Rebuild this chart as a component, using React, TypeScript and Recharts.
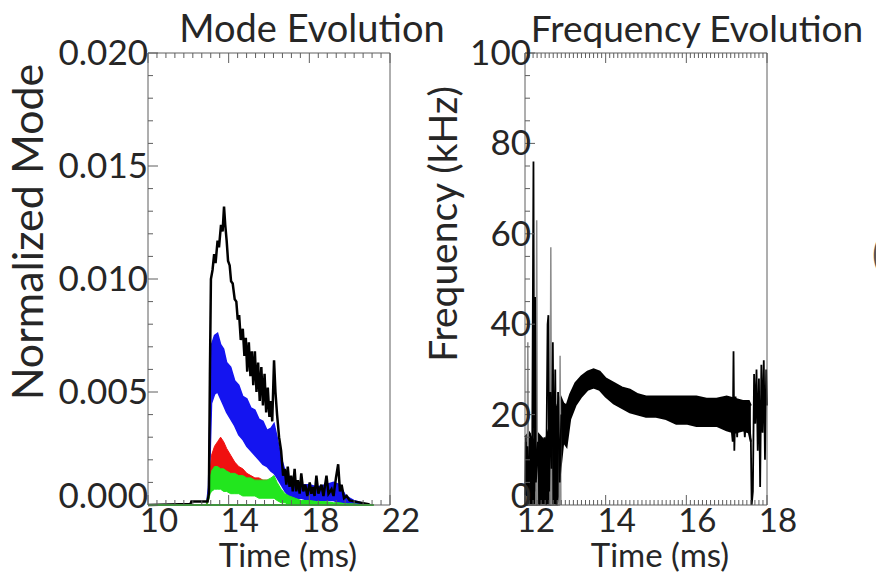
import React from "react";
import { ComposedChart, Area, Line, XAxis, YAxis } from "recharts";

const FONT = "Lato, 'Open Sans', sans-serif";
const FRAME = "#5e5e5e";
const INK = "#262626";

// ---------- Mode Evolution ----------
const modeXMajor = [10, 14, 18, 22];
const modeYMajor = [0, 0.005, 0.01, 0.015, 0.02];

const bandTime = [
  12.9, 13.0, 13.08, 13.15, 13.3, 13.45, 13.6, 13.75, 13.9, 14.1,
  14.3, 14.5, 14.7, 14.9, 15.1, 15.3, 15.5, 15.7, 15.9, 16.1,
  16.25, 16.4, 16.6, 16.8, 17.0, 17.3, 17.6, 18.0, 18.4, 18.8,
  19.2, 19.5, 19.8, 20.2, 20.8,
];
const blueHigh = [
  0, 0.0008, 0.0045, 0.0071, 0.0075, 0.0076, 0.0071, 0.0069, 0.0063, 0.0061,
  0.0055, 0.0053, 0.0048, 0.0047, 0.0043, 0.0042, 0.0038, 0.0037, 0.0033, 0.0034,
  0.0036, 0.003, 0.0021, 0.0015, 0.0012, 0.001, 0.0009, 0.0009, 0.0008, 0.0009,
  0.001, 0.0009, 0.0004, 0.0002, 0.00005,
];
const blueLow = [
  0, 0.0003, 0.0022, 0.0045, 0.0049, 0.005, 0.0047, 0.0044, 0.0041, 0.0038,
  0.0035, 0.0031, 0.0029, 0.0026, 0.0024, 0.0022, 0.002, 0.0018, 0.0017, 0.0015,
  0.0014, 0.0012, 0.0009, 0.0006, 0.0004, 0.0003, 0.0003, 0.0002, 0.0002, 0.0002,
  0.0002, 0.0001, 0.0001, 0, 0,
];
const redHigh = [
  0, 0.0005, 0.0015, 0.0022, 0.0026, 0.0028, 0.003, 0.0028, 0.0025, 0.0022,
  0.0019, 0.0017, 0.0016, 0.0014, 0.0013, 0.0012, 0.0012, 0.0011, 0.0011, 0.0011,
  0.0011, 0.0009, 0.0006, 0.0004, 0.0003, 0.0002, 0.0001, 0, 0, 0,
  0, 0, 0, 0, 0,
];
const redLow = [
  0, 0.0002, 0.0007, 0.001, 0.0012, 0.0013, 0.0013, 0.0013, 0.0012, 0.0011,
  0.001, 0.0009, 0.0009, 0.0008, 0.0008, 0.0007, 0.0007, 0.0007, 0.0006, 0.0006,
  0.0006, 0.0005, 0.0003, 0.0002, 0.0001, 0.0001, 0, 0, 0, 0,
  0, 0, 0, 0, 0,
];
const greenHigh = [
  0.0001, 0.0005, 0.0012, 0.0015, 0.0017, 0.0017, 0.0016, 0.0016, 0.0015, 0.0014,
  0.0014, 0.0013, 0.0013, 0.0012, 0.0012, 0.0011, 0.0011, 0.0011, 0.0011, 0.0012,
  0.0013, 0.001, 0.0007, 0.0005, 0.0004, 0.0003, 0.0002, 0.0002, 0.00015, 0.00015,
  0.0001, 0.0001, 0.00005, 0.00005, 0,
];
const greenLow = [
  0, 0.0002, 0.0005, 0.0006, 0.0007, 0.0007, 0.0007, 0.0006, 0.0006, 0.0005,
  0.0005, 0.0005, 0.0004, 0.0004, 0.0004, 0.0004, 0.0003, 0.0003, 0.0003, 0.0003,
  0.0003, 0.0002, 0.0001, 0.0001, 0, 0, 0, 0, 0, 0,
  0, 0, 0, 0, 0,
];

const blackTime = [
  10, 12.1, 12.15, 12.95, 13.02, 13.07, 13.12, 13.2, 13.28, 13.35,
  13.45, 13.52, 13.62, 13.7, 13.77, 13.83, 13.9, 13.97, 14.05, 14.12,
  14.2, 14.3, 14.38, 14.45, 14.52, 14.6, 14.7, 14.78, 14.85, 14.92,
  15.0, 15.08, 15.15, 15.22, 15.3, 15.38, 15.46, 15.54, 15.62, 15.7,
  15.78, 15.86, 15.94, 16.02, 16.1, 16.16, 16.25, 16.32, 16.4, 16.5,
  16.6, 16.7, 16.78, 16.86, 16.93, 17.02, 17.1, 17.18, 17.27, 17.35,
  17.43, 17.52, 17.6, 17.7, 17.8, 17.9, 18.02, 18.1, 18.18, 18.26,
  18.35, 18.45, 18.6, 18.7, 18.85, 18.95, 19.1, 19.2, 19.32, 19.43,
  19.52, 19.6, 19.72, 19.85, 20.0, 20.27, 20.93, 21.0,
];
const blackMode = [
  0, 0.00004, 0.00015, 0.00015, 0.0005, 0.0058, 0.01, 0.0104, 0.0111, 0.0107,
  0.0117, 0.0114, 0.0124, 0.0121, 0.0132, 0.0124, 0.0117, 0.0108, 0.0106, 0.0099,
  0.0098, 0.0091, 0.009, 0.0082, 0.0084, 0.0073, 0.0078, 0.0066, 0.0074, 0.0059,
  0.0072, 0.0057, 0.0068, 0.0053, 0.0068, 0.005, 0.0063, 0.0046, 0.0061, 0.0044,
  0.0058, 0.0041, 0.0052, 0.0039, 0.0046, 0.0037, 0.0064, 0.005, 0.004, 0.003,
  0.0024, 0.0013, 0.0016, 0.0009, 0.0017, 0.0008, 0.0013, 0.0006, 0.0016, 0.0006,
  0.0011, 0.0005, 0.0014, 0.0006, 0.0009, 0.0004, 0.001, 0.0005, 0.0008, 0.0004,
  0.0013, 0.0005, 0.0009, 0.0004, 0.0013, 0.0005, 0.0007, 0.0004, 0.0012, 0.0018,
  0.0006, 0.0009, 0.0003, 0.0004, 0.0002, 0.00015, 0.00004, 0,
];
const baseTime = [10, 21.2];
const baseMode = [0, 0];

// ---------- Frequency Evolution ----------
const freqXMajor = [12, 14, 16, 18];
const freqYMajor = [0, 20, 40, 60, 80, 100];

const freqBandTime = [
  12.0, 12.1, 12.2, 12.3, 12.4, 12.5, 12.6, 12.7, 12.8, 12.88,
  12.95, 13.03, 13.12, 13.25, 13.4, 13.55, 13.7, 13.85, 14.0, 14.2,
  14.4, 14.6, 14.8, 15.0, 15.25, 15.5, 15.75, 16.0, 16.25, 16.5,
  16.75, 17.0, 17.2, 17.4, 17.55, 17.6,
];
const freqLow = [
  0, 0, 0, 0, 0, 0, 0, 0, 0, 8,
  14, 13, 19, 22, 24, 25.5, 26, 25.5, 24, 22.5,
  21.5, 20.5, 20, 19.5, 19.5, 19, 18, 18, 17.5, 17.5,
  17.5, 16.5, 16, 16.5, 16, 14,
];
const freqHigh = [
  15, 16, 14, 16, 15, 14, 17, 20, 22, 24,
  22.5, 22, 24.5, 27, 28.5, 29.5, 30, 29.5, 28, 27,
  26, 25.5, 24.5, 24, 24, 24, 24, 24, 24, 23.5,
  23.5, 24, 23.5, 23, 23, 22,
];
const earlyTime = [
  12.0, 12.02, 12.04, 12.06, 12.09, 12.12, 12.15, 12.18, 12.21, 12.23,
  12.25, 12.27, 12.32, 12.36, 12.4, 12.44, 12.48, 12.52, 12.56, 12.58,
  12.6, 12.63, 12.66, 12.69, 12.72, 12.75, 12.78, 12.82, 12.86, 12.9,
];
const earlyFreq = [
  0, 14, 2, 13, 0, 16, 4, 15, 76, 3,
  46, 5, 14, 0, 12, 2, 15, 0, 40, 42,
  3, 25, 8, 36, 2, 30, 0, 25, 5, 20,
];
const grayTime = [12.05, 12.07, 12.09, 12.27, 12.29, 12.31, 12.62, 12.64, 12.66, 12.85, 12.87, 12.89];
const grayFreq = [0, 36, 0, 0, 63, 0, 0, 57, 0, 0, 33, 0];
const lateTime = [
  17.1, 17.13, 17.15, 17.17, 17.19, 17.22, 17.26, 17.3, 17.35, 17.4,
  17.45, 17.5, 17.55, 17.6, 17.62, 17.65, 17.68, 17.71, 17.74, 17.77,
  17.8, 17.83, 17.86, 17.89, 17.92, 17.95, 17.98, 18.0,
];
const lateFreq = [
  22, 16, 14, 34, 12, 24, 15, 23, 17, 22,
  15, 22, 19, 14, 0, 3, 29, 18, 30, 12,
  28, 4, 31, 16, 32, 10, 30, 22,
];

type Series = { t: number[]; v: (number | number[])[] };

function mergeRows(series: Record<string, Series>) {
  const rows = new Map<number, Record<string, any>>();
  Object.entries(series).forEach(([key, s]) => {
    s.t.forEach((t, i) => {
      const row = rows.get(t) ?? { t };
      row[key] = s.v[i];
      rows.set(t, row);
    });
  });
  return [...rows.values()].sort((a, b) => a.t - b.t);
}

const band = (lo: number[], hi: number[]) => lo.map((l, i) => [l, hi[i]]);

const modeRows = mergeRows({
  blue: { t: bandTime, v: band(blueLow, blueHigh) },
  red: { t: bandTime, v: band(redLow, redHigh) },
  green: { t: bandTime, v: band(greenLow, greenHigh) },
  black: { t: blackTime, v: blackMode },
  base: { t: baseTime, v: baseMode },
});

const freqRows = mergeRows({
  body: { t: freqBandTime, v: band(freqLow, freqHigh) },
  gray: { t: grayTime, v: grayFreq },
  early: { t: earlyTime, v: earlyFreq },
  late: { t: lateTime, v: lateFreq },
});

function withMinors(a: number, b: number, step: number) {
  const n = Math.round((b - a) / step);
  return Array.from({ length: n + 1 }, (_, i) => Math.round((a + i * step) * 1e6) / 1e6);
}

const isMajor = (majors: number[], v: number) => majors.some((m) => Math.abs(m - v) < 1e-9);

function bottomTick(majors: number[]) {
  return (p: any) => {
    const major = isMajor(majors, p.payload.value);
    return (
      <g>
        <line x1={p.x} x2={p.x} y1={p.y} y2={p.y - (major ? 10 : 5)} stroke={FRAME} />
        {major && (
          <text x={p.x + 11} y={p.y + 27} textAnchor="middle" fontSize={33} fontFamily={FONT} fill={INK}>
            {String(p.payload.value)}
          </text>
        )}
      </g>
    );
  };
}

function topTick(majors: number[]) {
  return (p: any) => {
    const major = isMajor(majors, p.payload.value);
    return <line x1={p.x} x2={p.x} y1={p.y} y2={p.y + (major ? 10 : 5)} stroke={FRAME} />;
  };
}

function leftTick(majors: number[], fmt: (v: number) => string, dx: number) {
  return (p: any) => {
    const v = p.payload.value;
    const major = isMajor(majors, v);
    // the lowest label sits a little higher so it clears the x labels
    const dy = v === majors[0] ? 3 : 12;
    return (
      <g>
        <line x1={p.x} x2={p.x + (major ? 10 : 5)} y1={p.y} y2={p.y} stroke={FRAME} />
        {major && (
          <text x={p.x + dx} y={p.y + dy} textAnchor="end" fontSize={35} fontFamily={FONT} fill={INK}>
            {fmt(v)}
          </text>
        )}
      </g>
    );
  };
}

function rightTick(majors: number[]) {
  return (p: any) => {
    const major = isMajor(majors, p.payload.value);
    return <line x1={p.x} x2={p.x - (major ? 10 : 5)} y1={p.y} y2={p.y} stroke={FRAME} />;
  };
}

function ModePanel() {
  const xTicks = withMinors(10, 22, 4 / 9);
  const yTicks = withMinors(0, 0.02, 0.001);
  return (
    <ComposedChart width={440} height={573} data={modeRows} margin={{ top: 52, right: 49, bottom: 0, left: 0 }}>
      <XAxis dataKey="t" type="number" domain={[10, 22]} ticks={xTicks} interval={0} height={68}
        tickSize={0} tickMargin={0} tickLine={false} stroke={FRAME} tick={bottomTick(modeXMajor)} />
      <XAxis xAxisId="top" orientation="top" dataKey="t" type="number" domain={[10, 22]} ticks={xTicks}
        interval={0} height={1} tickSize={0} tickMargin={0} tickLine={false} stroke={FRAME} tick={topTick(modeXMajor)} />
      <YAxis type="number" domain={[0, 0.02]} ticks={yTicks} interval={0} width={148}
        tickSize={0} tickMargin={0} tickLine={false} stroke={FRAME}
        tick={leftTick(modeYMajor, (v) => v.toFixed(3), 0)} />
      <YAxis yAxisId="right" orientation="right" type="number" domain={[0, 0.02]} ticks={yTicks} interval={0}
        width={1} tickSize={0} tickMargin={0} tickLine={false} stroke={FRAME} tick={rightTick(modeYMajor)} />
      <Area type="linear" dataKey="blue" stroke="#1414f0" strokeWidth={1.5} fill="#1414f0" fillOpacity={1}
        connectNulls dot={false} activeDot={false} isAnimationActive={false} />
      <Area type="linear" dataKey="red" stroke="#f01010" strokeWidth={1} fill="#f01010" fillOpacity={1}
        connectNulls dot={false} activeDot={false} isAnimationActive={false} />
      <Area type="linear" dataKey="green" stroke="#22e61e" strokeWidth={1} fill="#22e61e" fillOpacity={1}
        connectNulls dot={false} activeDot={false} isAnimationActive={false} />
      <Line type="linear" dataKey="black" stroke="#000" strokeWidth={2.5} connectNulls dot={false}
        activeDot={false} isAnimationActive={false} />
      <Line type="linear" dataKey="base" stroke="#22c61e" strokeWidth={2} connectNulls dot={false}
        activeDot={false} isAnimationActive={false} />
    </ComposedChart>
  );
}

function FreqPanel() {
  const xTicks = withMinors(12, 18, 0.1);
  const yTicks = withMinors(0, 100, 5);
  return (
    <ComposedChart width={456} height={573} data={freqRows} margin={{ top: 52, right: 108, bottom: 0, left: 0 }}>
      <XAxis dataKey="t" type="number" domain={[12, 18]} ticks={xTicks} interval={0} height={68}
        tickSize={0} tickMargin={0} tickLine={false} stroke={FRAME} tick={bottomTick(freqXMajor)} />
      <XAxis xAxisId="top" orientation="top" dataKey="t" type="number" domain={[12, 18]} ticks={xTicks}
        interval={0} height={1} tickSize={0} tickMargin={0} tickLine={false} stroke={FRAME} tick={topTick(freqXMajor)} />
      <YAxis type="number" domain={[0, 100]} ticks={yTicks} interval={0} width={105}
        tickSize={0} tickMargin={0} tickLine={false} stroke={FRAME}
        tick={leftTick(freqYMajor, (v) => String(v), 6)} />
      <YAxis yAxisId="right" orientation="right" type="number" domain={[0, 100]} ticks={yTicks} interval={0}
        width={1} tickSize={0} tickMargin={0} tickLine={false} stroke={FRAME} tick={rightTick(freqYMajor)} />
      <Area type="linear" dataKey="body" stroke="#000" strokeWidth={2} fill="#000" fillOpacity={1}
        connectNulls dot={false} activeDot={false} isAnimationActive={false} />
      <Line type="linear" dataKey="gray" stroke="#8c8c8c" strokeWidth={1.5} connectNulls dot={false}
        activeDot={false} isAnimationActive={false} />
      <Line type="linear" dataKey="early" stroke="#000" strokeWidth={1.8} connectNulls dot={false}
        activeDot={false} isAnimationActive={false} />
      <Line type="linear" dataKey="late" stroke="#000" strokeWidth={1.8} connectNulls dot={false}
        activeDot={false} isAnimationActive={false} />
    </ComposedChart>
  );
}

export default function App() {
  const text = { fontFamily: FONT, fill: INK };
  return (
    <div style={{ position: "absolute", left: 0, top: 0, width: 876, height: 573, background: "#fff", overflow: "hidden" }}>
      <div style={{ position: "absolute", left: 0, top: 0 }}>
        <ModePanel />
      </div>
      <div style={{ position: "absolute", left: 420, top: 0 }}>
        <FreqPanel />
      </div>
      <svg width={876} height={573} style={{ position: "absolute", left: 0, top: 0, pointerEvents: "none" }}>
        <text x={312} y={42} textAnchor="middle" fontSize={38} {...text}>Mode Evolution</text>
        <text x={697} y={42} textAnchor="middle" fontSize={37} {...text}>Frequency Evolution</text>
        <text transform="translate(43,232) rotate(-90)" textAnchor="middle" fontSize={43} {...text}>Normalized Mode</text>
        <text transform="translate(457,224) rotate(-90)" textAnchor="middle" fontSize={39} {...text}>Frequency (kHz)</text>
        <text x={288} y={567} textAnchor="middle" fontSize={33} {...text}>Time (ms)</text>
        <text x={660} y={567} textAnchor="middle" fontSize={33} {...text}>Time (ms)</text>
        <text x={872} y={268} fontSize={40} fill="#555" fontFamily={FONT}>(</text>
      </svg>
    </div>
  );
}
